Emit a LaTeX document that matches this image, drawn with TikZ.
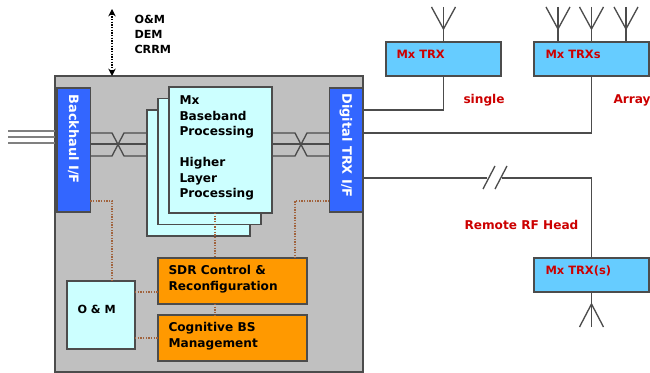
\documentclass[tikz,border=0pt]{standalone}
\usepackage{fontspec}
\usetikzlibrary{arrows.meta}
\setmainfont{DejaVu Sans}
\definecolor{framegray}{HTML}{4C4C4C}
\definecolor{basegray}{HTML}{C0C0C0}
\definecolor{ifblue}{HTML}{3366FF}
\definecolor{cardcyan}{HTML}{CCFFFF}
\definecolor{ctrlorange}{HTML}{FF9900}
\definecolor{trxblue}{HTML}{66CCFF}
\definecolor{labelred}{HTML}{CC0000}
\definecolor{ctrlbrown}{HTML}{A0623C}
\tikzset{every picture/.style={line width=0.75pt}}
\tikzset{
  block/.style={draw=framegray,line width=1pt,inner sep=0pt,outer sep=0pt},
  card/.style={block,fill=cardcyan,minimum width=77.25pt,minimum height=94.5pt},
  ifcard/.style={block,fill=ifblue,minimum width=25pt,minimum height=93pt},
  ctrlcard/.style={block,fill=ctrlorange,minimum width=111.75pt,minimum height=34.5pt},
  trxcard/.style={block,fill=trxblue,minimum width=86.25pt,minimum height=25.5pt},
  txt/.style={inner sep=0pt,align=left,font=\bfseries\fontsize{9.1}{11.6}\selectfont},
  smalltxt/.style={txt,font=\bfseries\fontsize{8.4}{11.3}\selectfont},
  redtxt/.style={txt,text=labelred},
  trxtxt/.style={redtxt,anchor=west,font=\bfseries\fontsize{8.6}{11.6}\selectfont},
  iftxt/.style={txt,text=white,rotate=-90,anchor=west,font=\bfseries\fontsize{9.7}{11.6}\selectfont},
  wire/.style={draw=framegray,line width=1pt},
  ctrl/.style={draw=ctrlbrown,line width=1pt,densely dotted}
}
\begin{document}
\begin{tikzpicture}[x=0.75pt,y=0.75pt,yscale=-1,xscale=1]
\useasboundingbox (0,0) rectangle (650,373);

%Base station frame
\node (base) [block,fill=basegray,minimum width=231pt,minimum height=222pt] at (209,224) {};
%Processing cards
\node (card3) [card] at (198.5,173) {};
\node (card2) [card] at (209.5,161.5) {};
\node (card1) [card] at (220.5,150) {};
%Interfaces
\node (bhaul) [ifcard] at (73.5,150) {};
\node (dtrx) [ifcard] at (346,150) {};
%Control blocks
\node (sdr) [ctrlcard] at (232.5,281) {};
\node (cog) [ctrlcard] at (232.5,338) {};
\node (om) [block,fill=cardcyan,minimum width=51pt,minimum height=51pt] at (101,315) {};
%Transceivers
\node (single) [trxcard] at (443.5,59) {};
\node (array) [trxcard] at (591.5,59) {};
\node (remote) [trxcard] at (591.5,275) {};

%Management arrow
\coordinate (mgmt) at (112,9);
\draw [densely dotted,line width=1pt,{Stealth[length=5.5pt,width=5.5pt]}-{Stealth[length=5.5pt,width=5.5pt]}] (mgmt) -- (mgmt |- base.north);

%Backhaul lines
\coordinate (bh1) at (8,131);
\coordinate (bh2) at (8,137);
\coordinate (bh3) at (8,143);
\draw [draw=gray,line width=1pt] (bh1) -- (bh1 -| base.west);
\draw [draw=gray,line width=1pt] (bh2) -- (bh2 -| base.west);
\draw [draw=gray,line width=1pt] (bh3) -- (bh3 -| base.west);

%Crossed lines left
\draw [wire] (bhaul.east |- 0,133) -- (112,133) -- (124,156) -- (card3.west |- 0,156);
\draw [wire] (bhaul.east |- 0,144) -- (card3.west |- 0,144);
\draw [wire] (bhaul.east |- 0,156) -- (112,156) -- (124,133) -- (card3.west |- 0,133);
%Crossed lines right
\draw [wire] (card1.east |- 0,133) -- (295,133) -- (307,156) -- (dtrx.west |- 0,156);
\draw [wire] (card1.east |- 0,144) -- (dtrx.west |- 0,144);
\draw [wire] (card1.east |- 0,156) -- (295,156) -- (307,133) -- (dtrx.west |- 0,133);

%Control lines
\draw [ctrl] (bhaul.east |- 0,201) -- (112,201) -- (112,0 |- om.north);
\draw [ctrl] (dtrx.west |- 0,201) -- (295,201) -- (295,0 |- sdr.north);
\draw [ctrl] (215,0 |- card1.south) -- (215,0 |- sdr.north);
\draw [ctrl] (215,0 |- sdr.south) -- (215,0 |- cog.north);
\draw [ctrl] (om.east |- 0,292) -- (sdr.west |- 0,292);
\draw [ctrl] (om.east |- cog.west) -- (cog.west);

%Links to the transceivers
\draw [wire] (dtrx.east |- 0,110) -- (single.south |- 0,110) -- (single.south);
\draw [wire] (dtrx.east |- 0,133) -- (array.south |- 0,133) -- (array.south);
\draw [wire] (dtrx.east |- 0,178) -- (487,178);
\draw [wire] (502,178) -- (remote.north |- 0,178) -- (remote.north);
\draw [wire] (483,189) -- (495,166);
\draw [wire] (495,189) -- (507,166);

%Antennas
\coordinate (ant1) at (443.5,7);
\coordinate (ant2) at (558,7);
\coordinate (ant3) at (591.5,7);
\coordinate (ant4) at (626,7);
\coordinate (ant5) at (591.5,327);
\draw [wire] (ant1) -- (single.north);
\draw [wire] (431.5,7) -- (443.5,29) -- (455.5,7);
\draw [wire] (ant2) -- (ant2 |- array.north);
\draw [wire] (546,7) -- (558,29) -- (570,7);
\draw [wire] (ant3) -- (array.north);
\draw [wire] (579.5,7) -- (591.5,29) -- (603.5,7);
\draw [wire] (ant4) -- (ant4 |- array.north);
\draw [wire] (614,7) -- (626,29) -- (638,7);
\draw [wire] (remote.south) -- (ant5);
\draw [wire] (579.5,327) -- (591.5,304) -- (603.5,327);

% Text Node
\node (mgmttxt) [smalltxt,anchor=north west] at (134,15) {O\&M\\DEM\\CRRM};
% Text Node
\node (bhaultxt) [iftxt] at (73.5,94) {Backhaul I/F};
% Text Node
\node (dtrxtxt) [iftxt] at (346,93) {Digital TRX I/F};
% Text Node
\node (cardtxt) [txt,anchor=north west] at (179,95.5) {Mx\\Baseband\\Processing\\[11.6pt]Higher\\Layer\\Processing};
% Text Node
\node (sdrtxt) [txt,anchor=west] at (168,279) {SDR Control \&\\Reconfiguration};
% Text Node
\node (cogtxt) [txt,anchor=west] at (168,336) {Cognitive BS\\Management};
% Text Node
\node (omtxt) [smalltxt,anchor=west] at (77,309) {O \& M};
% Text Node
\node (singletxt) [trxtxt] at (396,54) {Mx TRX};
% Text Node
\node (arraytxt) [trxtxt] at (545,54) {Mx TRXs};
% Text Node
\node (remotetxt) [trxtxt] at (545,271) {Mx TRX(s)};
% Text Node
\node (singlelbl) [redtxt,anchor=west] at (463,100) {single};
% Text Node
\node (arraylbl) [redtxt,anchor=west] at (613,100) {Array};
% Text Node
\node (remotelbl) [redtxt,anchor=west] at (464,225) {Remote RF Head};

\end{tikzpicture}
\end{document}
